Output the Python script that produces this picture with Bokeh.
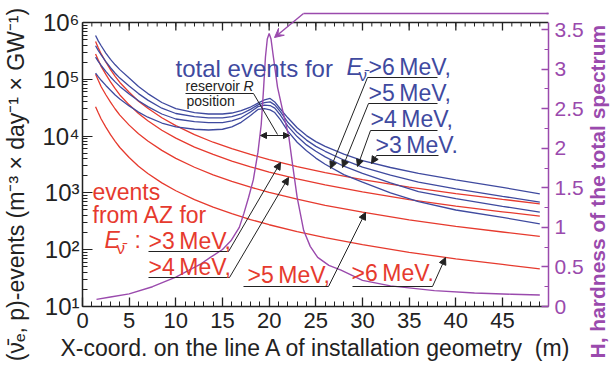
import math
from bokeh.plotting import figure
from bokeh.models import Range1d, LinearAxis, LinearScale, FixedTicker, Label, Arrow, NormalHead, VeeHead
from bokeh.embed import file_html
from bokeh.resources import INLINE

FONT = "Liberation Sans"
BLUE = "#3f4a9f"
RED = "#e63a2e"
PURPLE = "#9a4aad"
INK = "#222222"
NBSP = "\u00a0"

# ---------------- data ----------------
red_x = [1.4, 1.7, 2, 2.5, 3, 3.5, 4, 5, 6, 7, 8.5, 10, 12, 14, 16, 18, 20, 23, 26, 30, 35, 40, 45, 49]
red_gt3 = [462000, 357000, 280000, 202000, 148000, 113000, 88000, 59000, 41000, 31000, 21000, 15300,
           10600, 7800, 6000, 4760, 3850, 2900, 2280, 1720, 1260, 970, 770, 643]
red_gt4 = [279000, 216000, 169000, 122000, 90000, 68500, 53000, 35500, 25000, 18600, 12700, 9200,
           6400, 4750, 3640, 2880, 2330, 1760, 1380, 1040, 760, 585, 465, 389]
red_gt5 = [123000, 95000, 74000, 53500, 39500, 30000, 23400, 15600, 11000, 8200, 5600, 4050,
           2830, 2080, 1600, 1260, 1020, 775, 605, 458, 335, 257, 205, 171]
red_gt6 = [33000, 25500, 20000, 14400, 10600, 8100, 6300, 4200, 2950, 2200, 1500, 1090,
           760, 560, 430, 340, 275, 208, 163, 123, 90, 69, 55, 46]

blue_x = [1.4, 1.7, 2, 2.5, 3, 3.5, 4, 5, 6, 7, 8.5, 10, 12, 13.5, 15, 16, 17, 18, 18.8, 19.5,
          20.1, 20.6, 21.2, 22, 23, 24, 25, 26, 28, 30, 33, 36, 40, 45, 49]
blue_gt3 = [590000, 470000, 390000, 290000, 225000, 180000, 148000, 105000, 75000, 56000, 39000, 30500,
            26000, 24500, 24500, 25500, 28000, 32500, 38000, 43500, 46000, 40000, 30000, 21000, 14000,
            10200, 8000, 6600, 4800, 3700, 2800, 2200, 1700, 1250, 964]
blue_gt4 = [390000, 320000, 270000, 205000, 160000, 128000, 105000, 76000, 56000, 43000, 31000, 25000,
            22000, 21000, 21000, 22000, 24500, 29500, 35500, 39000, 40000, 35500, 27000, 17500, 11700,
            8500, 6600, 5400, 3800, 2850, 2050, 1550, 1180, 870, 686]
blue_gt5 = [245000, 205000, 175000, 138000, 110000, 90000, 75000, 55000, 42000, 33000, 24500, 20000,
            18000, 17200, 17200, 18500, 21000, 26500, 33000, 35000, 34500, 31000, 23500, 15000, 9800,
            7000, 5400, 4300, 2950, 2200, 1500, 1050, 790, 580, 457]
blue_gt6 = [128000, 110000, 96000, 78000, 64000, 53000, 45000, 34000, 26500, 21500, 17000, 14500,
            13200, 12800, 13200, 14500, 17500, 23000, 29500, 30500, 29000, 26000, 19500, 12200, 7800,
            5500, 4100, 3200, 2100, 1550, 1000, 700, 500, 370, 286]

h_x = [1.5, 3, 5, 7.5, 10, 12.7, 13.7, 15, 15.9, 16.8, 17.3, 17.8, 18.3, 18.8, 19.15, 19.4, 19.6, 19.8,
       20.0, 20.2, 20.4, 20.9, 21.5, 22.1, 22.5, 23.0, 23.7, 24.4, 25.2, 26.4, 27.7, 30, 33, 37.7, 42, 46, 49]
h_val = [0.09, 0.12, 0.16, 0.25, 0.37, 0.54, 0.62, 0.72, 0.83, 1.0, 1.18, 1.38, 1.6, 1.95, 2.3, 2.75, 3.15,
         3.38, 3.45, 3.38, 3.2, 2.77, 2.45, 2.15, 1.8, 1.38, 0.96, 0.76, 0.62, 0.52, 0.46, 0.33, 0.26,
         0.2, 0.17, 0.155, 0.145]

x_ticks = [0, 5, 10, 15, 20, 25, 30, 35, 40, 45]
x_minor = list(range(0, 50))
y_ticks = [10, 100, 1000, 10000, 100000, 1000000]
y_tick_labels = ["10\u00b9", "10\u00b2", "10\u00b3", "10\u2074", "10\u2075", "10\u2076"]
h_ticks = [0, 0.5, 1, 1.5, 2, 2.5, 3, 3.5]
h_tick_labels = ["0", "0.5", "1", "1.5", "2", "2.5", "3", "3.5"]

# ---------------- figure geometry ----------------
W, H = 616, 367
L, R, T, B = 82, 68, 11, 61       # frame top at 11 so the pointer line above the box is visible
BOX_TOP = 22                      # pixel row of the 10^6 / top border line
AX_BOT = H - B                    # pixel row of the x axis
FW = W - L - R
DEC = (AX_BOT - BOX_TOP) / 5.0    # pixels per decade
HPX = (AX_BOT - BOX_TOP) / 3.589  # pixels per unit of H
X0, X1 = 0, 49.93

def dx(px):
    return X0 + (px - L) / FW * (X1 - X0)
def dy(py):
    return 10 ** (1 + (AX_BOT - py) / DEC)
def dh(py):
    return (AX_BOT - py) / HPX

p = figure(width=W, height=H, x_range=Range1d(X0, X1), y_range=Range1d(10, dy(T)),
           y_axis_type="log", output_backend="svg", toolbar_location=None,
           min_border_left=L, min_border_right=R, min_border_top=T, min_border_bottom=B)
p.extra_y_ranges = {"H": Range1d(0, dh(T))}
p.extra_y_scales = {"H": LinearScale()}
p.outline_line_color = None
p.xgrid.grid_line_color = None
p.ygrid.grid_line_color = None
p.background_fill_color = "white"
p.border_fill_color = "white"

# bottom axis
xa = p.xaxis[0]
xa.ticker = FixedTicker(ticks=x_ticks, minor_ticks=x_minor)
xa.axis_line_color = INK
xa.axis_line_width = 1.5
xa.major_tick_in = 9
xa.major_tick_out = 0
xa.minor_tick_in = 5
xa.minor_tick_out = 0
xa.major_tick_line_color = INK
xa.minor_tick_line_color = INK
xa.major_tick_line_width = 1.3
xa.major_label_text_font = FONT
xa.major_label_text_font_size = "22px"
xa.major_label_text_color = INK
xa.major_label_standoff = 6

# left log axis
ya = p.yaxis[0]
minor_y = []
for d in range(1, 6):
    for m in range(2, 10):
        minor_y.append(m * 10 ** d)
ya.ticker = FixedTicker(ticks=y_ticks, minor_ticks=minor_y)
ya.major_label_overrides = {t: s for t, s in zip(y_ticks, y_tick_labels)}
ya.bounds = (10, 1000000)
ya.axis_line_color = INK
ya.axis_line_width = 1.5
ya.major_tick_in = 10
ya.major_tick_out = 0
ya.minor_tick_in = 5
ya.minor_tick_out = 0
ya.major_tick_line_color = INK
ya.minor_tick_line_color = INK
ya.major_label_text_font = FONT
ya.major_label_text_font_size = "24px"
ya.major_label_text_color = INK
ya.major_label_standoff = 3

# right H axis
ra = LinearAxis(y_range_name="H",
                ticker=FixedTicker(ticks=h_ticks, minor_ticks=[0.25 + 0.5 * i for i in range(7)]))
ra.major_label_overrides = {t: s for t, s in zip(h_ticks, h_tick_labels)}
ra.bounds = (0, 3.589)
ra.axis_line_color = PURPLE
ra.axis_line_width = 1.5
ra.major_tick_in = 7
ra.major_tick_out = 0
ra.minor_tick_in = 4
ra.minor_tick_out = 0
ra.major_tick_line_color = PURPLE
ra.minor_tick_line_color = PURPLE
ra.major_tick_line_width = 1.3
ra.major_label_text_font = FONT
ra.major_label_text_font_size = "21px"
ra.major_label_text_color = PURPLE
ra.major_label_standoff = 6
p.add_layout(ra, "right")

# top border of the box with mirrored ticks
p.line([X0, X1], [1000000, 1000000], line_color=INK, line_width=1.5)
p.segment(x0=x_ticks, y0=[1000000] * len(x_ticks), x1=x_ticks, y1=[dy(BOX_TOP + 8)] * len(x_ticks),
          line_color=INK, line_width=1.3)
p.segment(x0=x_minor, y0=[1000000] * len(x_minor), x1=x_minor, y1=[dy(BOX_TOP + 4)] * len(x_minor),
          line_color=INK, line_width=1.0)

# ---------------- curves ----------------
for ys in [red_gt3, red_gt4, red_gt5, red_gt6]:
    p.line(red_x, ys, line_color=RED, line_width=1.3)
for ys in [blue_gt3, blue_gt4, blue_gt5, blue_gt6]:
    p.line(blue_x, ys, line_color=BLUE, line_width=1.3)
p.line(h_x, h_val, y_range_name="H", line_color=PURPLE, line_width=1.4)

# ---------------- annotations ----------------
def lab(px, py, text, size, color, style="normal"):
    # py is the wanted baseline row; Bokeh draws alphabetic text a bit lower, so lift it
    lift = 0.36 * size
    p.add_layout(Label(x=dx(px), y=dy(py - lift), text=text, text_font=FONT,
                       text_font_size="%dpx" % size, text_color=color, text_font_style=style,
                       text_align="left", text_baseline="alphabetic"))

def side_lab(side, px, py, text, size, color, style="normal", angle=0.0, align="left",
             baseline="alphabetic"):
    # titles outside the box: placed in a side panel so that they are not clipped to the frame
    p.add_layout(Label(x=px, y=py, x_units="canvas", y_units="canvas", text=text, text_font=FONT,
                       text_font_size="%dpx" % size, text_color=color, text_font_style=style,
                       angle=angle, text_align=align, text_baseline=baseline), side)

def leader(pts, color=INK, width=1.0, size=7):
    xs = [dx(a) for a, b in pts]
    ys = [dy(b) for a, b in pts]
    p.line(xs[:-1], ys[:-1], line_color=color, line_width=width)
    p.add_layout(Arrow(x_start=xs[-2], y_start=ys[-2], x_end=xs[-1], y_end=ys[-1],
                       line_color=color, line_width=width,
                       end=NormalHead(size=size, fill_color=color, line_color=color)))

# blue title
lab(175, 77, "total events for", 24, BLUE)
lab(346, 75, "E", 24, BLUE, style="italic")
lab(358, 81, "\u03bd\u0304", 17, BLUE)
lab(368, 75, ">6\u2009MeV,", 23, BLUE)
lab(368, 101, ">5\u2009MeV,", 23, BLUE)
lab(370, 127, ">4\u2009MeV,", 23, BLUE)
lab(375, 153, ">3\u2009MeV.", 23, BLUE)
leader([(437, 77), (367, 77), (330, 168)])
leader([(437, 103), (368, 103), (342, 167)])
leader([(437, 130), (370, 130), (357, 166)])
leader([(438, 155), (376, 155), (371, 163)])

# red texts
lab(92, 200, "events", 23, RED)
lab(92, 223, "from AZ for", 23, RED)
lab(104, 248, "E", 23, RED, style="italic")
lab(116, 254, "\u03bd\u0304", 17, RED)
lab(134, 248, ":", 23, RED)
lab(148, 249, ">3\u2009MeV,", 23, RED)
lab(148, 275, ">4\u2009MeV,", 23, RED)
lab(247, 283, ">5\u2009MeV,", 23, RED)
lab(351, 281, ">6\u2009MeV.", 23, RED)
leader([(148, 251), (228, 251), (280, 162)])
leader([(148, 277), (229, 277), (288, 177)])
leader([(243, 286), (328, 286), (365, 212)])
leader([(352, 286), (432, 286), (445, 257)])

# reservoir label
lab(185, 91, "reservoir", 14, INK)
lab(243, 91, "R", 14, INK, style="italic")
lab(186, 106, "position", 14, INK)
p.line([dx(185), dx(253), dx(277)], [dy(93), dy(93), dy(134)], line_color=INK, line_width=1.0)
p.add_layout(Arrow(x_start=dx(260), y_start=dy(135), x_end=dx(289), y_end=dy(135),
                   line_color=INK, line_width=1.0,
                   start=NormalHead(size=6, fill_color=INK, line_color=INK),
                   end=NormalHead(size=6, fill_color=INK, line_color=INK)))

# purple pointer from the H axis title to the peak
p.line([dx(303), dx(W)], [dy(13), dy(13)], line_color=PURPLE, line_width=1.4)
p.add_layout(Arrow(x_start=dx(303), y_start=dy(13), x_end=dx(274), y_end=dy(37),
                   line_color=PURPLE, line_width=1.4,
                   end=VeeHead(size=9, fill_color=PURPLE, line_color=PURPLE)))
p.add_layout(Arrow(x_start=dx(546), y_start=dy(13), x_end=dx(W), y_end=dy(13),
                   line_color=PURPLE, line_width=1.4, end=None), "right")

# axis titles (outside the frame, one label per side so the frame keeps its size)
side_lab("below", 60, 356 - 0.36 * 23,
         "X-coord. on the line A of installation geometry" + NBSP * 2 + "(m)", 23, INK)
side_lab("left", 15, 184,
         "(\u03bd\u0304\u2091, p)-events (m\u207b\u00b3 \u00d7 day\u207b\u00b9 \u00d7 GW\u207b\u00b9)",
         23, INK, angle=math.pi / 2, align="center", baseline="middle")
side_lab("right", 597, 358, "H, hardness of the total spectrum", 21, PURPLE, style="bold",
         angle=math.pi / 2, baseline="middle")

open("out.html", "w").write(file_html(p, INLINE))
